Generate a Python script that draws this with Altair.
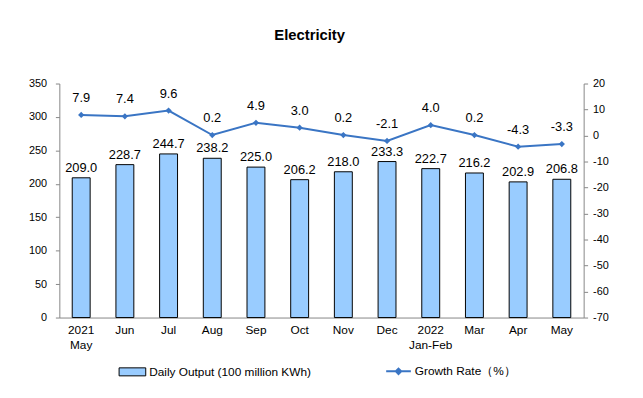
import altair as alt
import pandas as pd

months = ["2021|May", "Jun", "Jul", "Aug", "Sep", "Oct", "Nov", "Dec",
          "2022|Jan-Feb", "Mar", "Apr", "May "]
output = [209.0, 228.7, 244.7, 238.2, 225.0, 206.2, 218.0, 233.3, 222.7, 216.2, 202.9, 206.8]
growth = [7.9, 7.4, 9.6, 0.2, 4.9, 3.0, 0.2, -2.1, 4.0, 0.2, -4.3, -3.3]
left_ticks = [0, 50, 100, 150, 200, 250, 300, 350]
right_ticks = [-70, -60, -50, -40, -30, -20, -10, 0, 10, 20]
bar_name = "Daily Output (100 million KWh)"
line_name = "Growth Rate（%）"

df = pd.DataFrame({"month": months, "output": output, "growth": growth})
df["bar_series"] = bar_name
df["line_series"] = line_name
df["output_label"] = [f"{v:.1f}" for v in output]
df["growth_label"] = [f"{v:.1f}" for v in growth]

FONT = "Liberation Sans"
AXIS_COLOR = "#868686"
LINE_COLOR = "#3a75c4"

x_enc = alt.X("month:N", sort=months, title=None,
              scale=alt.Scale(paddingInner=0.59, paddingOuter=0.295),
              axis=alt.Axis(labelAngle=0, labelExpr="split(datum.label, '|')",
                            labelFont=FONT, labelFontSize=12, labelColor="black",
                            labelPadding=7, labelLineHeight=15, ticks=False,
                            domainColor=AXIS_COLOR, grid=False))

y_left = alt.Y("output:Q", scale=alt.Scale(domain=[0, 350], nice=False), title=None,
               axis=alt.Axis(values=left_ticks, orient="left", grid=False,
                             domainColor=AXIS_COLOR, tickColor=AXIS_COLOR, tickSize=4,
                             labelFont=FONT, labelFontSize=11, labelColor="black",
                             labelPadding=9))
y_right = alt.Y("growth:Q", scale=alt.Scale(domain=[-70, 20], nice=False), title=None,
                axis=alt.Axis(values=right_ticks, orient="right", grid=False,
                              domainColor=AXIS_COLOR, tickColor=AXIS_COLOR, tickSize=4,
                              labelExpr="'' + datum.value",
                              labelFont=FONT, labelFontSize=11, labelColor="black",
                              labelPadding=5))

base = alt.Chart(df)

bars = base.mark_bar(stroke="black", strokeWidth=1).encode(
    fill=alt.Fill("bar_series:N", scale=alt.Scale(domain=[bar_name], range=["#99ccff"]),
                  legend=alt.Legend(title=None, orient="none", legendX=60, legendY=278,
                                    symbolType="M-1,-0.3H1V0.3H-1Z", symbolSize=729,
                                    symbolStrokeColor="black", symbolStrokeWidth=1,
                                    labelFont=FONT, labelFontSize=12, labelColor="black",
                                    labelOffset=3, labelLimit=400)),
)
bar_text = base.mark_text(baseline="bottom", dy=-3, font=FONT, fontSize=13, color="black").encode(
    text="output_label:N",
)

line = base.mark_line(strokeWidth=2).encode(
    stroke=alt.Stroke("line_series:N", scale=alt.Scale(domain=[line_name], range=[LINE_COLOR]),
                      legend=alt.Legend(title=None, orient="none", legendX=330, legendY=278,
                                        symbolType="M-1,0H1M0,-0.22L0.22,0L0,0.22L-0.22,0Z",
                                        symbolSize=625, symbolStrokeWidth=2,
                                        symbolFillColor=LINE_COLOR,
                                        labelFont=FONT, labelFontSize=12, labelColor="black",
                                        labelOffset=3, labelLimit=400)),
)
points = base.mark_point(shape="diamond", filled=True, size=40, color=LINE_COLOR, opacity=1).encode()
line_text = base.mark_text(baseline="bottom", dy=-10, font=FONT, fontSize=13, color="black").encode(
    text="growth_label:N",
)

bar_layer = alt.layer(bars, bar_text).encode(x=x_enc, y=y_left)
line_layer = alt.layer(line, points, line_text).encode(x=x_enc, y=y_right)

chart = alt.layer(bar_layer, line_layer).resolve_scale(
    y="independent", fill="independent", stroke="independent"
).properties(
    width=531, height=237,
    title=alt.TitleParams("Electricity", font=FONT, fontSize=15, fontWeight="bold",
                          color="black", anchor="middle", dx=-12, offset=35),
    autosize=alt.AutoSizeParams(type="none"),
    padding={"left": 52, "top": 74, "right": 52, "bottom": 79},
).configure_view(stroke=None)

chart.save("out.html", embed_options={"renderer": "svg", "actions": False})
